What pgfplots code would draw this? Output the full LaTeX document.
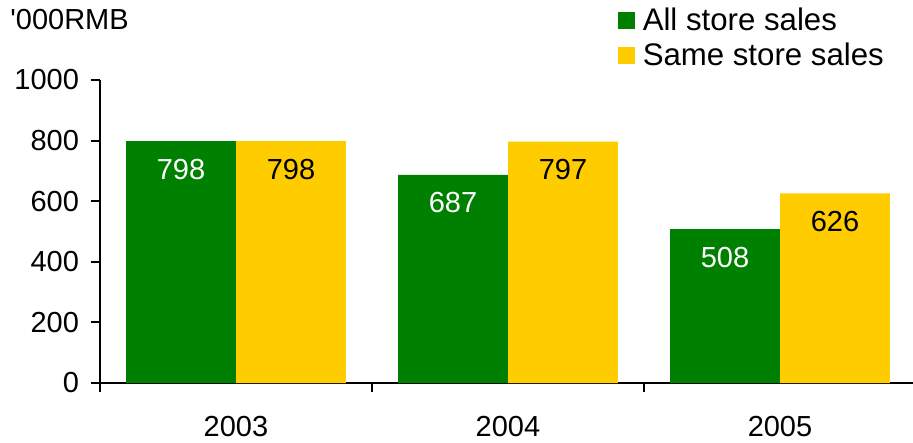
\documentclass[border=0pt]{standalone}
\usepackage{fontspec}
\setmainfont{Liberation Sans}
\usepackage{pgfplots}
\pgfplotsset{compat=1.18}

\definecolor{allgreen}{RGB}{0,128,0}
\definecolor{sameyellow}{RGB}{255,204,0}

\newcommand{\chartfont}{\fontsize{14.5}{17}\selectfont}
\newcommand{\legendfont}{\fontsize{15.6}{18}\selectfont}

\begin{document}
\begin{tikzpicture}
% page frame, 913x443 px at 0.5pt per px
\path[use as bounding box] (-50pt,-30pt) rectangle (406.5pt,191.5pt);
\begin{axis}[
    at={(0pt,0pt)}, anchor=south west,
    scale only axis,
    width=408pt, height=151.5pt,
    font=\chartfont,
    /pgf/number format/assume math mode=true,
    /pgf/number format/1000 sep={},
    axis x line=bottom, axis y line=left,
    axis line style={-, line width=1pt},
    every tick/.style={black, line width=1pt},
    tick align=outside,
    xmin=0, xmax=3,
    ymin=0, ymax=1000,
    ytick={0,200,...,1000},
    major tick length=4.5pt,
    yticklabel style={xshift=-2.5pt},
    xtick={0,1,2},
    xticklabels={},
    extra x ticks={0.5,1.5,2.5},
    extra x tick labels={2003,2004,2005},
    extra x tick style={major tick length=0pt, tick style={draw=none},
        xticklabel style={yshift=-13pt}},
    ybar,
    bar width=0.404,
    nodes near coords,
    every node near coord/.append style={anchor=center, yshift=-14pt, font=\chartfont},
    legend style={draw=none, fill=none, inner sep=0pt, anchor=north west,
        at={(0.634,1.24)}, row sep=5pt,
        /tikz/every odd column/.append style={column sep=3pt},
        nodes={inner sep=1pt, text height=10.5pt, text depth=0pt, font=\legendfont}},
    legend cell align=left,
    legend image code/.code={\fill[#1] (0pt,-4.25pt) rectangle (8.5pt,4.25pt);},
]
\addplot[fill=allgreen, draw=none, bar shift=-0.202,
    every node near coord/.append style={text=white}]
    coordinates {(0.5,798) (1.5,687) (2.5,508)};
\addlegendentry{All store sales}
\addplot[fill=sameyellow, draw=none, bar shift=0.202,
    every node near coord/.append style={text=black}]
    coordinates {(0.5,798) (1.5,797) (2.5,626)};
\addlegendentry{Same store sales}
\end{axis}
\node[anchor=west, inner sep=0pt, font=\chartfont] at (-45pt,181.5pt) {\textquotesingle000RMB};
\end{tikzpicture}
\end{document}
